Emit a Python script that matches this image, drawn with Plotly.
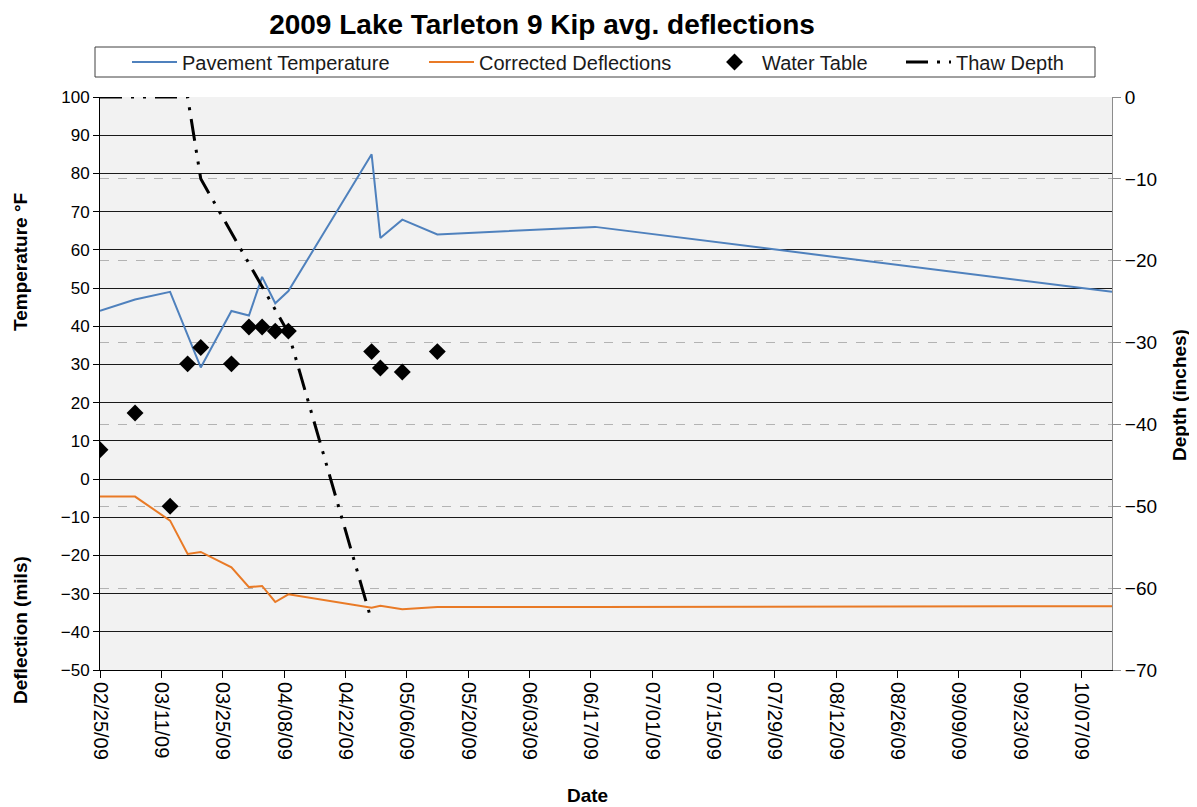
import plotly.graph_objects as go

# ---- data ----
temp_dates = ["2009-02-25", "2009-03-05", "2009-03-13", "2009-03-20", "2009-03-27",
              "2009-03-31", "2009-04-03", "2009-04-06", "2009-04-09", "2009-04-28",
              "2009-04-30", "2009-05-05", "2009-05-13", "2009-06-18", "2009-10-14"]
pavement_temp = [44, 47, 49, 29.2, 44, 42.8, 52.9, 46, 49.2, 85, 63.1, 67.9, 64, 66, 49]

defl_dates = ["2009-02-25", "2009-03-05", "2009-03-13", "2009-03-17", "2009-03-20",
              "2009-03-27", "2009-03-31", "2009-04-03", "2009-04-06", "2009-04-09",
              "2009-04-28", "2009-04-30", "2009-05-05", "2009-05-13", "2009-06-18",
              "2009-10-14"]
corrected_defl = [-4.6, -4.6, -10.9, -19.6, -19.1, -23.1, -28.3, -28.0, -32.2, -30.2,
                  -33.7, -33.2, -34.1, -33.5, -33.5, -33.3]

wt_dates = ["2009-02-25", "2009-03-05", "2009-03-13", "2009-03-17", "2009-03-20",
            "2009-03-27", "2009-03-31", "2009-04-03", "2009-04-06", "2009-04-09",
            "2009-04-28", "2009-04-30", "2009-05-05", "2009-05-13"]
water_table = [-43.1, -38.6, -50.0, -32.6, -30.6, -32.6, -28.1, -28.1, -28.6, -28.6,
               -31.1, -33.1, -33.6, -31.1]

thaw_dates = ["2009-02-25", "2009-03-17", "2009-03-20", "2009-04-09", "2009-04-28"]
thaw_depth = [0, 0, -10, -28.8, -64]

x_range = ["2009-02-25", "2009-10-14"]
left_ticks = list(range(-50, 101, 10))
right_ticks = list(range(-70, 1, 10))

FONT = "Liberation Sans, Arial, sans-serif"

# page offset caused by the default 8px body margin of the html page
OFF = 8
# plot-area geometry in page pixels
L, R, T, B = 100, 1112, 97, 670
W, H = 1197 - OFF, 807 - OFF


def px_x(p):
    return (p - L) / (R - L)


def px_y(p):
    return (B - p) / (B - T)


fig = go.Figure()
fig.add_trace(go.Scatter(x=temp_dates, y=pavement_temp, mode="lines",
                         name="Pavement Temperature",
                         line=dict(color="#4F81BD", width=2), legend="legend"))
fig.add_trace(go.Scatter(x=defl_dates, y=corrected_defl, mode="lines",
                         name="Corrected Deflections",
                         line=dict(color="#E97A26", width=2), legend="legend2"))
fig.add_trace(go.Scatter(x=wt_dates, y=water_table, mode="markers", name="Water Table",
                         marker=dict(symbol="diamond", size=13, color="black"),
                         yaxis="y2", legend="legend3"))
fig.add_trace(go.Scatter(x=thaw_dates, y=thaw_depth, mode="lines", name="Thaw Depth",
                         line=dict(color="black", width=3,
                                   dash="22px,9px,3px,9px,3px,9px"),
                         yaxis="y2", legend="legend4"))

leg_common = dict(orientation="h", xanchor="left", yanchor="middle", y=px_y(62),
                  bgcolor="rgba(0,0,0,0)", borderwidth=0, itemwidth=45,
                  font=dict(family=FONT, size=20, color="#1a1a1a"))

fig.update_layout(
    width=W, height=H,
    margin=dict(l=L - OFF, r=W - (R - OFF), t=T - OFF, b=H - (B - OFF)),
    paper_bgcolor="white", plot_bgcolor="#F2F2F2",
    font=dict(family=FONT, color="black"),
    title=dict(text="<b>2009 Lake Tarleton 9 Kip avg. deflections</b>",
               x=(542 - OFF) / W, xanchor="center", y=1 - (24 - OFF) / H,
               yanchor="middle",
               font=dict(family=FONT, size=28, color="black")),
    xaxis=dict(type="date", range=x_range, tick0="2009-02-25", dtick=14 * 86400000,
               tickformat="%m/%d/%y", tickangle=90, ticks="outside", ticklen=7,
               tickcolor="black", showline=True, linecolor="black", linewidth=1,
               showgrid=False, zeroline=False,
               tickfont=dict(family=FONT, size=20, color="black")),
    yaxis=dict(range=[-50, 100], tickvals=left_ticks, ticks="outside", ticklen=6,
               tickcolor="black", showline=True, linecolor="black", linewidth=1,
               showgrid=True, gridcolor="#1a1a1a", gridwidth=1, zeroline=False,
               tickfont=dict(family=FONT, size=17, color="black")),
    yaxis2=dict(range=[-70, 0], tickvals=right_ticks, overlaying="y", side="right",
                ticks="outside", ticklen=8, tickcolor="#8c8c8c", showline=True,
                linecolor="#8c8c8c", linewidth=1, showgrid=True, gridcolor="#b3b3b3",
                griddash="dash", gridwidth=1, zeroline=False,
                tickfont=dict(family=FONT, size=19, color="black")),
    legend=dict(leg_common, x=px_x(127)),
    legend2=dict(leg_common, x=px_x(424)),
    legend3=dict(leg_common, x=px_x(707)),
    legend4=dict(leg_common, x=px_x(901)),
    showlegend=True,
)

# legend frame
fig.add_shape(type="rect", xref="paper", yref="paper",
              x0=px_x(95), x1=px_x(1095), y0=px_y(77), y1=px_y(47),
              line=dict(color="#404040", width=1), fillcolor="rgba(0,0,0,0)")

# axis titles
ann_font = dict(family=FONT, size=19, color="black")
fig.add_annotation(text="<b>Temperature °F</b>", xref="paper", yref="paper",
                   x=px_x(20), y=px_y(262), textangle=-90, showarrow=False,
                   xanchor="center", yanchor="middle", font=ann_font)
fig.add_annotation(text="<b>Deflection (mils)</b>", xref="paper", yref="paper",
                   x=px_x(20), y=px_y(630), textangle=-90, showarrow=False,
                   xanchor="center", yanchor="middle", font=ann_font)
fig.add_annotation(text="<b>Depth (inches)</b>", xref="paper", yref="paper",
                   x=px_x(1180), y=px_y(395), textangle=-90, showarrow=False,
                   xanchor="center", yanchor="middle", font=ann_font)
fig.add_annotation(text="<b>Date</b>", xref="paper", yref="paper",
                   x=px_x(587), y=px_y(795), showarrow=False,
                   xanchor="center", yanchor="middle", font=ann_font)

fig.write_html("out.html")
